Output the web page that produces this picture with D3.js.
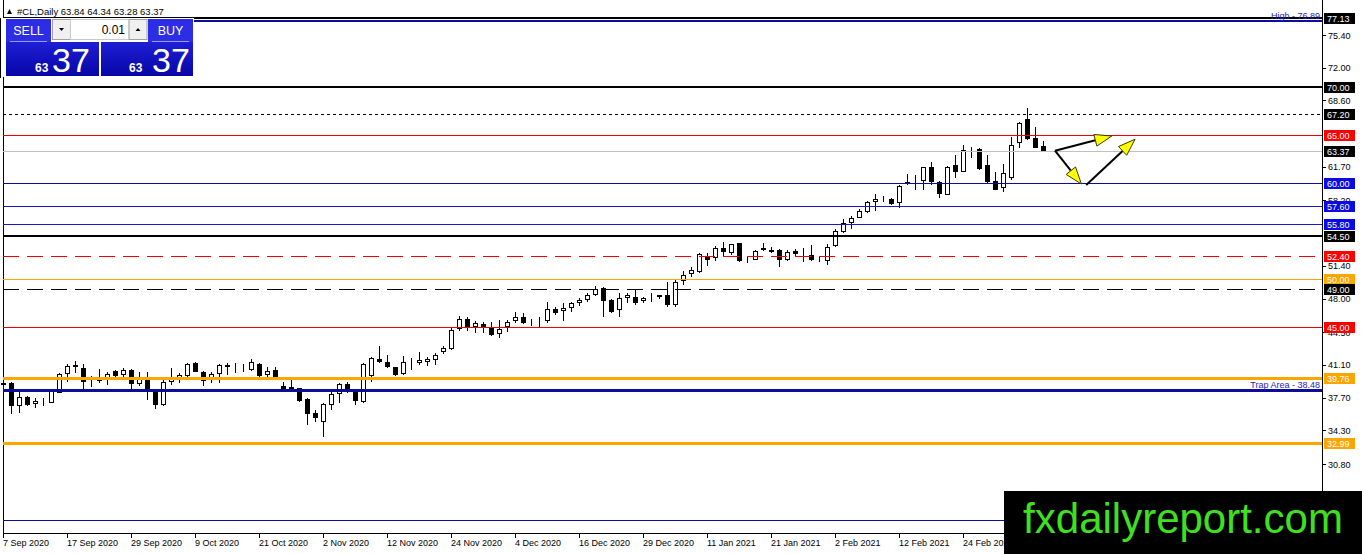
<!DOCTYPE html>
<html>
<head>
<meta charset="utf-8">
<script src="https://cdn.jsdelivr.net/npm/d3@7"></script>
<style>
  body { margin: 0; background: #fff; overflow: hidden; }
  svg { display: block; font-family: "Liberation Sans", Arial, sans-serif; }
  .price-label { font-size: 9px; fill: #000; }
  .box-label { font-size: 9px; fill: #fff; }
  .date-label { font-size: 9px; fill: #000; }
  .note { font-size: 9px; }
</style>
</head>
<body>
<div id="wrapper"></div>
<script>
// Data
const symbolName = "#CL,Daily"
const lastQuote = [63.84, 64.34, 63.28, 63.37]

const opens = [
  39.26, 39.20, 36.76, 37.74, 37.04, 37.22, 37.18, 38.22, 40.16, 41.07,
  40.76, 39.47, 39.64, 39.54, 40.51, 40.03, 40.58, 39.09, 39.61, 38.50,
  36.91, 39.26, 39.72, 39.95, 41.34, 40.34, 39.54, 40.13, 41.10, 40.92,
  40.79, 40.65, 41.20, 40.06, 40.58, 38.92, 38.63, 38.68, 37.53, 36.14,
  35.17, 36.97, 38.08, 39.12, 38.50, 37.25, 39.88, 41.69, 41.41, 40.86,
  40.16, 41.41, 41.27, 41.48, 41.62, 42.38, 42.73, 44.81, 45.85, 45.02,
  45.36, 44.98, 44.29, 45.02, 45.60, 46.06, 45.57, 45.67, 45.60, 46.92,
  46.64, 46.99, 47.51, 47.85, 48.37, 49.07, 47.85, 46.74, 47.99, 48.14,
  47.68, 48.14, 48.37, 48.37, 47.34, 49.86, 50.53, 50.80, 52.43, 52.19,
  53.23, 52.77, 53.81, 52.01, 52.08, 52.98, 53.05, 53.05, 52.08, 52.95,
  52.71, 52.53, 52.01, 51.94, 53.47, 54.92, 55.89, 56.45, 56.93, 58.01,
  58.25, 58.32, 57.91, 60.09, 60.09, 60.22, 61.71, 60.09, 58.84, 61.89,
  61.19, 63.52, 63.52, 61.89, 60.22, 59.47, 60.51, 64.14, 66.67, 64.73,
  63.84
]
const highs = [
  39.43, 39.36, 38.50, 37.88, 37.64, 37.64, 38.50, 40.30, 41.20, 41.55,
  41.20, 39.95, 40.65, 40.34, 40.58, 40.82, 40.71, 40.37, 40.40, 38.57,
  39.54, 40.76, 40.30, 41.27, 41.41, 40.44, 40.40, 41.20, 41.34, 41.27,
  41.20, 41.69, 41.27, 40.92, 40.86, 39.36, 39.61, 38.74, 37.64, 36.42,
  37.12, 38.32, 39.26, 39.36, 38.57, 41.34, 41.90, 43.07, 42.14, 40.92,
  42.03, 41.79, 42.48, 41.90, 42.31, 43.07, 44.91, 46.19, 46.06, 45.70,
  45.60, 45.60, 45.78, 45.78, 46.64, 46.47, 45.85, 46.06, 47.68, 47.16,
  47.51, 47.68, 48.03, 48.61, 49.31, 49.18, 47.93, 48.55, 48.55, 48.97,
  48.20, 48.55, 48.37, 49.76, 49.93, 50.90, 51.25, 52.71, 52.71, 53.47,
  53.91, 53.68, 53.81, 52.36, 53.05, 53.75, 53.40, 53.12, 53.05, 53.12,
  53.23, 53.57, 52.43, 53.68, 55.20, 56.24, 56.59, 57.28, 58.18, 58.87,
  58.67, 58.43, 59.81, 60.92, 60.85, 61.71, 62.23, 60.22, 61.82, 62.93,
  63.97, 63.79, 63.62, 62.93, 61.13, 61.96, 64.83, 66.39, 67.84, 65.87,
  64.34
]
const lows = [
  38.92, 36.00, 36.08, 36.84, 36.60, 36.84, 37.12, 38.16, 39.36, 40.24,
  38.57, 38.84, 39.26, 39.02, 39.61, 39.88, 38.32, 38.92, 37.46, 36.56,
  36.84, 39.02, 39.20, 39.88, 40.34, 38.92, 39.26, 39.20, 40.09, 40.24,
  40.37, 40.51, 39.88, 39.61, 39.54, 38.32, 38.50, 37.25, 34.86, 35.20,
  33.58, 36.42, 37.18, 38.22, 36.97, 37.18, 39.36, 41.27, 40.76, 39.95,
  40.06, 40.58, 41.10, 40.99, 41.10, 42.21, 42.66, 44.66, 44.66, 44.46,
  44.40, 44.11, 43.87, 44.56, 45.50, 45.36, 45.15, 45.02, 45.43, 46.30,
  45.70, 46.64, 47.26, 47.68, 48.27, 46.06, 46.53, 46.12, 47.57, 47.34,
  47.57, 47.61, 47.93, 47.16, 47.16, 49.41, 50.28, 50.69, 51.39, 51.94,
  52.43, 52.53, 51.84, 51.67, 52.01, 52.95, 52.71, 51.32, 51.94, 52.29,
  51.84, 51.94, 51.84, 51.49, 53.33, 54.79, 55.20, 56.35, 56.87, 57.14,
  58.07, 57.73, 57.39, 59.84, 59.29, 59.29, 59.81, 58.49, 58.77, 60.57,
  61.13, 62.58, 61.37, 59.88, 59.29, 59.11, 60.33, 63.69, 64.49, 63.62,
  63.28
]
const closes = [
  39.05, 36.84, 37.74, 36.91, 37.36, 37.36, 38.43, 40.16, 40.99, 40.86,
  39.26, 39.61, 39.47, 40.16, 39.95, 40.58, 39.09, 39.72, 38.57, 36.91,
  39.30, 39.72, 40.06, 41.20, 40.40, 39.36, 40.16, 41.10, 40.92, 40.82,
  40.71, 41.44, 39.95, 40.51, 39.82, 38.63, 38.84, 37.36, 36.00, 35.66,
  37.04, 38.08, 39.12, 38.57, 37.39, 41.20, 41.79, 41.34, 40.86, 40.06,
  41.38, 41.55, 41.62, 41.75, 42.14, 42.83, 44.74, 45.85, 45.02, 45.43,
  45.02, 44.29, 44.81, 45.54, 46.06, 45.43, 45.67, 45.57, 46.89, 46.47,
  46.99, 47.51, 47.85, 48.37, 48.97, 47.68, 46.64, 48.03, 48.34, 47.51,
  48.03, 48.27, 48.20, 47.34, 49.76, 50.45, 50.97, 52.64, 52.01, 53.23,
  52.77, 53.68, 51.94, 52.08, 52.98, 53.23, 52.88, 52.01, 52.88, 52.64,
  52.64, 52.01, 52.08, 53.40, 55.06, 55.89, 56.41, 57.14, 58.01, 58.32,
  58.39, 57.80, 59.71, 59.88, 60.02, 61.71, 60.15, 58.84, 61.71, 61.13,
  63.45, 63.62, 61.47, 60.15, 59.29, 61.03, 63.97, 66.22, 64.59, 63.69,
  63.37
]

const dateLabels = [
  "7 Sep 2020", "17 Sep 2020", "29 Sep 2020", "9 Oct 2020",
  "21 Oct 2020", "2 Nov 2020", "12 Nov 2020", "24 Nov 2020",
  "4 Dec 2020", "16 Dec 2020", "29 Dec 2020", "11 Jan 2021",
  "21 Jan 2021", "2 Feb 2021", "12 Feb 2021", "24 Feb 2021"
]
const barsPerDateLabel = 8

// axis ticks that are not hidden behind a level box
const priceTicks = [75.40, 72.00, 68.60, 61.70, 58.20, 51.40, 48.00, 44.50, 41.10, 37.70, 34.30, 30.80]

// horizontal levels drawn on the chart
const levelPrices = [77.13, 76.89, 70.00, 67.20, 65.00, 63.37, 60.00, 57.60, 55.80, 54.50, 52.40, 50.00, 49.00, 45.00, 39.76, 38.48, 32.99, 25.00]

const notePrices = [76.89, 38.48]
const noteTexts = ["High - 76.89", "Trap Area - 38.48"]

// arrows: [bar index, price] from -> to
const arrowFrom = [[131.5, 63.37], [131.5, 63.37], [135.4, 59.81]]
const arrowTo = [[138.6, 64.90], [134.8, 59.91], [141.5, 64.56]]

const bidPrice = 63.37

// styles for the levels (same order as levelPrices)
const navy = "#0c0c9c"
const red = "#f00000"
const levelStyles = [
  { stroke: "#000", width: 2, box: "#000" },
  { stroke: navy, width: 2 },
  { stroke: "#000", width: 2, box: "#000" },
  { stroke: "#000", width: 1, dash: "3,3", box: "#000" },
  { stroke: red, width: 1, box: "#ff0000" },
  { stroke: "#c0c0c0", width: 1, box: "#000" },
  { stroke: navy, width: 1, box: "#0a0ae6" },
  { stroke: "#1a1ac0", width: 1, box: "#0a0ae6" },
  { stroke: "#1a1ac0", width: 1, box: "#0a0ae6" },
  { stroke: "#000", width: 2, box: "#000" },
  { stroke: red, width: 1, dash: "16,8", box: "#ff0000" },
  { stroke: "#ffa500", width: 1, box: "#ffa500" },
  { stroke: "#000", width: 1, dash: "16,8", box: "#000" },
  { stroke: red, width: 1, box: "#ff0000" },
  { stroke: "#ffa500", width: 2.5, box: "#ffa500" },
  { stroke: navy, width: 2.5 },
  { stroke: "#ffa500", width: 2.5, box: "#ffa500" },
  { stroke: navy, width: 1 },
]

// dimensions
const dimensions = {
  width: 1362,
  height: 554,
  plotLeft: 3,
  plotRight: 1322,
  plotBottom: 533,
  barSpacing: 8,
  bodyWidth: 5,
  priceTop: 79.04,
  priceBottom: 23.63,
}

const svg = d3.select("#wrapper")
  .append("svg")
    .attr("width", dimensions.width)
    .attr("height", dimensions.height)

const defs = svg.append("defs")
const grad = defs.append("linearGradient")
  .attr("id", "priceGrad")
  .attr("x1", 0).attr("x2", 0).attr("y1", 0).attr("y2", 1)
grad.append("stop").attr("offset", "0%").attr("stop-color", "#2f2ff2")
grad.append("stop").attr("offset", "100%").attr("stop-color", "#0606a8")

// scales
const visibleBars = (dimensions.plotRight - dimensions.plotLeft) / dimensions.barSpacing
const xScale = d3.scaleLinear()
  .domain([0, visibleBars])
  .range([dimensions.plotLeft, dimensions.plotRight])

const yScale = d3.scaleLinear()
  .domain([dimensions.priceBottom, dimensions.priceTop])
  .range([dimensions.plotBottom, 0])

const px = v => Math.round(v) + 0.5

// frame
svg.append("line")
  .attr("x1", px(dimensions.plotLeft)).attr("x2", px(dimensions.plotLeft))
  .attr("y1", 0).attr("y2", dimensions.plotBottom)
  .attr("stroke", "#000")
svg.append("line")
  .attr("x1", px(dimensions.plotRight)).attr("x2", px(dimensions.plotRight))
  .attr("y1", 0).attr("y2", dimensions.plotBottom + 1)
  .attr("stroke", "#000")
svg.append("line")
  .attr("x1", dimensions.plotLeft).attr("x2", dimensions.plotRight)
  .attr("y1", px(dimensions.plotBottom)).attr("y2", px(dimensions.plotBottom))
  .attr("stroke", "#000")

// draw data
const bars = opens.map((open, i) => ({
  i,
  open,
  high: highs[i],
  low: lows[i],
  close: closes[i],
}))

const candles = svg.append("g").attr("shape-rendering", "crispEdges")
candles.selectAll(".wick")
  .data(bars)
  .enter().append("line")
    .attr("class", "wick")
    .attr("x1", d => px(xScale(d.i)))
    .attr("x2", d => px(xScale(d.i)))
    .attr("y1", d => yScale(d.high))
    .attr("y2", d => yScale(d.low))
    .attr("stroke", "#000")
candles.selectAll(".body")
  .data(bars)
  .enter().append("rect")
    .attr("class", "body")
    .attr("x", d => Math.round(xScale(d.i)) - (dimensions.bodyWidth - 1) / 2 + 0.5)
    .attr("width", dimensions.bodyWidth - 1)
    .attr("y", d => Math.round(yScale(Math.max(d.open, d.close))) + 0.5)
    .attr("height", d => Math.max(0, Math.round(Math.abs(yScale(d.open) - yScale(d.close))) - 1))
    .attr("fill", d => d.close > d.open ? "#fff" : "#000")
    .attr("stroke", "#000")

// levels
const levels = levelPrices.map((price, i) => ({ price, ...levelStyles[i] }))
svg.append("g")
  .attr("shape-rendering", "crispEdges")
  .selectAll(".level")
  .data(levels)
  .enter().append("line")
    .attr("class", "level")
    .attr("x1", dimensions.plotLeft)
    .attr("x2", dimensions.plotRight)
    .attr("y1", d => d.width % 2 ? px(yScale(d.price)) : Math.round(yScale(d.price)))
    .attr("y2", d => d.width % 2 ? px(yScale(d.price)) : Math.round(yScale(d.price)))
    .attr("stroke", d => d.stroke)
    .attr("stroke-width", d => d.width)
    .attr("stroke-dasharray", d => d.dash || null)

// notes on lines
svg.selectAll(".note")
  .data(notePrices)
  .enter().append("text")
    .attr("class", "note")
    .attr("x", dimensions.plotRight - 2)
    .attr("y", d => yScale(d) - 2)
    .attr("text-anchor", "end")
    .attr("fill", "#2323c8")
    .text((d, i) => noteTexts[i])

// arrows
const arrowsGroup = svg.append("g")
arrowFrom.forEach((from, i) => {
  const x1 = xScale(from[0]), y1 = yScale(from[1])
  const x2 = xScale(arrowTo[i][0]), y2 = yScale(arrowTo[i][1])
  const len = Math.hypot(x2 - x1, y2 - y1)
  const ux = (x2 - x1) / len, uy = (y2 - y1) / len
  const headLen = 17, headHalf = 6
  const bx = x2 - ux * headLen, by = y2 - uy * headLen
  arrowsGroup.append("line")
    .attr("x1", x1).attr("y1", y1)
    .attr("x2", bx).attr("y2", by)
    .attr("stroke", "#000")
    .attr("stroke-width", 2)
  arrowsGroup.append("polygon")
    .attr("points", [
      [x2, y2],
      [bx - uy * headHalf, by + ux * headHalf],
      [bx + uy * headHalf, by - ux * headHalf],
    ].map(p => p.join(",")).join(" "))
    .attr("fill", "#ffff00")
    .attr("stroke", "#3a3a00")
    .attr("stroke-width", 1)
})

// price axis
const axisGroup = svg.append("g")
axisGroup.selectAll(".price-tick")
  .data(priceTicks)
  .enter().append("line")
    .attr("x1", dimensions.plotRight)
    .attr("x2", dimensions.plotRight + 4)
    .attr("y1", d => px(yScale(d)))
    .attr("y2", d => px(yScale(d)))
    .attr("stroke", "#000")
axisGroup.selectAll(".price-label")
  .data(priceTicks)
  .enter().append("text")
    .attr("class", "price-label")
    .attr("x", dimensions.plotRight + 6)
    .attr("y", d => yScale(d) + 3.5)
    .text(d => d.toFixed(2))

// level boxes on the axis
const boxed = levels.filter(d => d.box)
const boxGroup = svg.append("g")
boxGroup.selectAll("rect")
  .data(boxed)
  .enter().append("rect")
    .attr("x", dimensions.plotRight + 2)
    .attr("y", d => Math.round(yScale(d.price)) - 5)
    .attr("width", 31)
    .attr("height", 11)
    .attr("fill", d => d.box)
boxGroup.selectAll("text")
  .data(boxed)
  .enter().append("text")
    .attr("class", "box-label")
    .attr("x", dimensions.plotRight + 5)
    .attr("y", d => Math.round(yScale(d.price)) + 4)
    .text(d => d.price.toFixed(2))

// time axis
const dateIndex = dateLabels.map((d, i) => i * barsPerDateLabel)
svg.selectAll(".date-tick")
  .data(dateIndex)
  .enter().append("line")
    .attr("x1", d => px(xScale(d)))
    .attr("x2", d => px(xScale(d)))
    .attr("y1", dimensions.plotBottom)
    .attr("y2", dimensions.plotBottom + 5)
    .attr("stroke", "#000")
svg.selectAll(".date-label")
  .data(dateIndex)
  .enter().append("text")
    .attr("class", "date-label")
    .attr("x", d => xScale(d))
    .attr("y", dimensions.plotBottom + 13)
    .text((d, i) => dateLabels[i])

// header
svg.append("path")
  .attr("d", "M7,14 L12,14 L9.5,9 Z")
  .attr("fill", "#000")
svg.append("text")
  .attr("x", 17)
  .attr("y", 14.5)
  .attr("font-size", 9.5)
  .attr("fill", "#000")
  .text(`${symbolName}  ${lastQuote.map(d => d.toFixed(2)).join(" ")}`)

// one click trading panel
const bidText = bidPrice.toFixed(2).split(".")
const panel = svg.append("g")
panel.append("line")
  .attr("x1", 0.5).attr("x2", 0.5).attr("y1", 18).attr("y2", 78)
  .attr("stroke", "#000")
panel.append("rect")
  .attr("x", 2).attr("y", 18).attr("width", 192).attr("height", 59)
  .attr("fill", "#fff")

const sides = [
  { label: "SELL", x: 6, w: 45, boxX: 6, boxW: 93, bigX: 52, smallX: 35 },
  { label: "BUY", x: 148, w: 45, boxX: 101, boxW: 92, bigX: 152, smallX: 129 },
]
sides.forEach(s => {
  panel.append("rect")
    .attr("x", s.boxX).attr("y", 19).attr("width", s.boxW).attr("height", 57)
    .attr("fill", "url(#priceGrad)")
  panel.append("rect")
    .attr("x", s.x).attr("y", 19).attr("width", s.w).attr("height", 23)
    .attr("fill", "#2d2de6")
  panel.append("line")
    .attr("x1", s.x + 4).attr("x2", s.x + s.w - 4)
    .attr("y1", 41.5).attr("y2", 41.5)
    .attr("stroke", "#9a9af5")
  panel.append("text")
    .attr("x", s.x + s.w / 2).attr("y", 35)
    .attr("text-anchor", "middle")
    .attr("font-size", 12.5)
    .attr("fill", "#fff")
    .text(s.label)
  panel.append("text")
    .attr("x", s.smallX).attr("y", 72)
    .attr("font-size", 12)
    .attr("font-weight", "bold")
    .attr("fill", "#fff")
    .text(bidText[0])
  panel.append("text")
    .attr("x", s.bigX).attr("y", 72)
    .attr("font-size", 34)
    .attr("fill", "#fff")
    .text(bidText[1])
})
// lot controls
panel.append("rect")
  .attr("x", 51).attr("y", 18).attr("width", 97).attr("height", 24)
  .attr("fill", "#fff")
const spinButtons = [{ x: 52, dir: 1 }, { x: 128.5, dir: -1 }]
spinButtons.forEach(b => {
  panel.append("rect")
    .attr("x", b.x + 0.5).attr("y", 19.5).attr("width", 18).attr("height", 20)
    .attr("fill", "#f0f0f0")
    .attr("stroke", "#a0a0a0")
  const cx = b.x + 9.5, cy = 29.5
  panel.append("path")
    .attr("d", `M${cx - 2.5},${cy - b.dir * 1.5} L${cx + 2.5},${cy - b.dir * 1.5} L${cx},${cy + b.dir * 1.5} Z`)
    .attr("fill", "#000")
})
panel.append("rect")
  .attr("x", 70.5).attr("y", 19.5).attr("width", 58).attr("height", 20)
  .attr("fill", "#fff")
  .attr("stroke", "#c8c8c8")
panel.append("text")
  .attr("x", 125).attr("y", 34)
  .attr("text-anchor", "end")
  .attr("font-size", 12)
  .attr("fill", "#000")
  .text("0.01")

// watermark
svg.append("rect")
  .attr("x", 1004).attr("y", 491)
  .attr("width", dimensions.width - 1004).attr("height", dimensions.height - 491)
  .attr("fill", "#000")
svg.append("text")
  .attr("x", 1183).attr("y", 533)
  .attr("text-anchor", "middle")
  .attr("font-size", 42)
  .attr("fill", "#3fe01f")
  .text("fxdailyreport.com")
</script>
</body>
</html>
